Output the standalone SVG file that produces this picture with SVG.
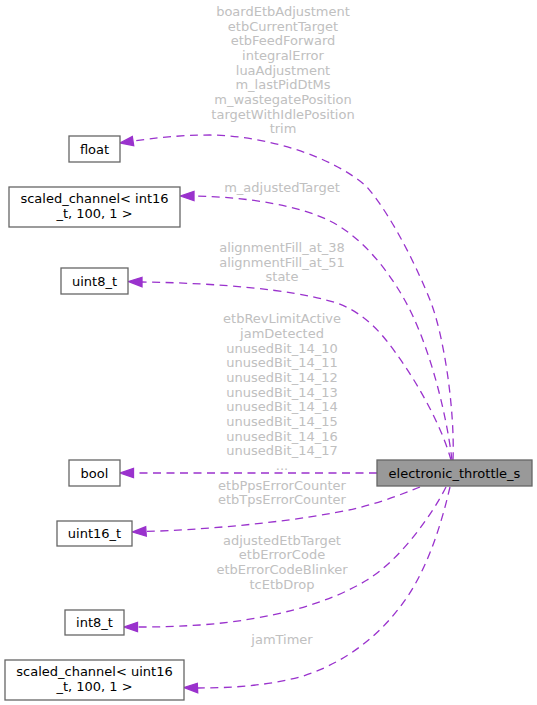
<svg xmlns="http://www.w3.org/2000/svg" width="537" height="705" viewBox="0 0 537 705">
<style>
text{font-family:"DejaVu Sans","Noto Sans",sans-serif;font-size:13px;text-anchor:middle}
.n rect{fill:#ffffff;stroke:#666666;stroke-width:1.3}
.n text{fill:#000000}
.main rect{fill:#999999}
.e path{fill:none;stroke:#9a32cd;stroke-width:1.3;stroke-dasharray:8,5.5}
.e polygon{fill:#9a32cd;stroke:#9a32cd;stroke-width:1.3}
.l{fill:#c0c0c0}
</style>
<rect width="537" height="705" fill="#ffffff"/>
<g id="edges" class="e">
<path d="M453,460 C455,410 444,335 430,300 C420,275 395,220 367,187 C335,158 270,136 210,135 C180,135 155,138 133,141"/>
<polygon points="133.7,145.6 132.3,136.4 120,143"/>
<path d="M452,460 C446,410 428,340 403,297 C385,266 360,236 330,221 C300,206 250,197 194,196"/>
<polygon points="194,191.3 194,200.7 180.5,196"/>
<path d="M451,460 C440,420 410,370 386,340 C370,320 350,305 326,300 C290,290 220,283 142,282"/>
<polygon points="142,277.3 142,286.7 128.5,281.5"/>
<path d="M377,473 L133.5,473"/>
<polygon points="133.5,468.3 133.5,477.7 120,473"/>
<path d="M420,487 C400,495 370,507 333,513 C280,523 200,530 146,531.5"/>
<polygon points="145.7,526.8 146.3,536.2 132.5,532"/>
<path d="M446,487 C432,515 400,560 367,580 C330,603 270,620 200,625 C170,627 150,627 137.5,627"/>
<polygon points="137.5,622.3 137.5,631.7 124,627"/>
<path d="M450,487 C440,530 425,575 400,607 C375,640 340,665 300,677 C265,686 230,688 197.5,688"/>
<polygon points="197.3,683.3 197.7,692.7 184,687.5"/>
</g>
<g id="edge-labels" class="l">
<text x="283" y="16">boardEtbAdjustment</text>
<text x="283" y="30.67">etbCurrentTarget</text>
<text x="283" y="45.33">etbFeedForward</text>
<text x="283" y="60">integralError</text>
<text x="283" y="74.67">luaAdjustment</text>
<text x="283" y="89.33">m_lastPidDtMs</text>
<text x="283" y="104">m_wastegatePosition</text>
<text x="283" y="118.67">targetWithIdlePosition</text>
<text x="283" y="133.33">trim</text>
<text x="282" y="192">m_adjustedTarget</text>
<text x="282" y="252">alignmentFill_at_38</text>
<text x="282" y="266.7">alignmentFill_at_51</text>
<text x="282" y="281.3">state</text>
<text x="282" y="323.2">etbRevLimitActive</text>
<text x="282" y="337.9">jamDetected</text>
<text x="282" y="352.5">unusedBit_14_10</text>
<text x="282" y="367.2">unusedBit_14_11</text>
<text x="282" y="381.9">unusedBit_14_12</text>
<text x="282" y="396.5">unusedBit_14_13</text>
<text x="282" y="411.2">unusedBit_14_14</text>
<text x="282" y="425.9">unusedBit_14_15</text>
<text x="282" y="440.5">unusedBit_14_16</text>
<text x="282" y="455.2">unusedBit_14_17</text>
<text x="282" y="469.9">...</text>
<text x="282" y="489.5">etbPpsErrorCounter</text>
<text x="282" y="504">etbTpsErrorCounter</text>
<text x="282" y="544.5">adjustedEtbTarget</text>
<text x="282" y="559.2">etbErrorCode</text>
<text x="282" y="573.8">etbErrorCodeBlinker</text>
<text x="282" y="588.5">tcEtbDrop</text>
<text x="282" y="643.8">jamTimer</text>
</g>
<g id="node-main" class="n main">
<rect x="377" y="460" width="155" height="26"/>
<text x="454.5" y="477.5">electronic_throttle_s</text>
</g>
<g id="node-float" class="n">
<rect x="69" y="136" width="51" height="26"/>
<text x="94.5" y="153.5">float</text>
</g>
<g id="node-scaled-int16" class="n">
<rect x="9" y="187" width="171" height="40"/>
<text x="94.5" y="203.2">scaled_channel&lt; int16</text>
<text x="94.5" y="217.8">_t, 100, 1 &gt;</text>
</g>
<g id="node-uint8" class="n">
<rect x="61" y="268" width="67" height="26"/>
<text x="94.5" y="285.5">uint8_t</text>
</g>
<g id="node-bool" class="n">
<rect x="69" y="460" width="51" height="26"/>
<text x="94.5" y="477.5">bool</text>
</g>
<g id="node-uint16" class="n">
<rect x="57" y="521" width="75" height="25"/>
<text x="94.5" y="538">uint16_t</text>
</g>
<g id="node-int8" class="n">
<rect x="65" y="610" width="59" height="25"/>
<text x="94.5" y="627">int8_t</text>
</g>
<g id="node-scaled-uint16" class="n">
<rect x="5" y="660" width="179" height="40"/>
<text x="94.5" y="676.2">scaled_channel&lt; uint16</text>
<text x="94.5" y="690.8">_t, 100, 1 &gt;</text>
</g>
</svg>
